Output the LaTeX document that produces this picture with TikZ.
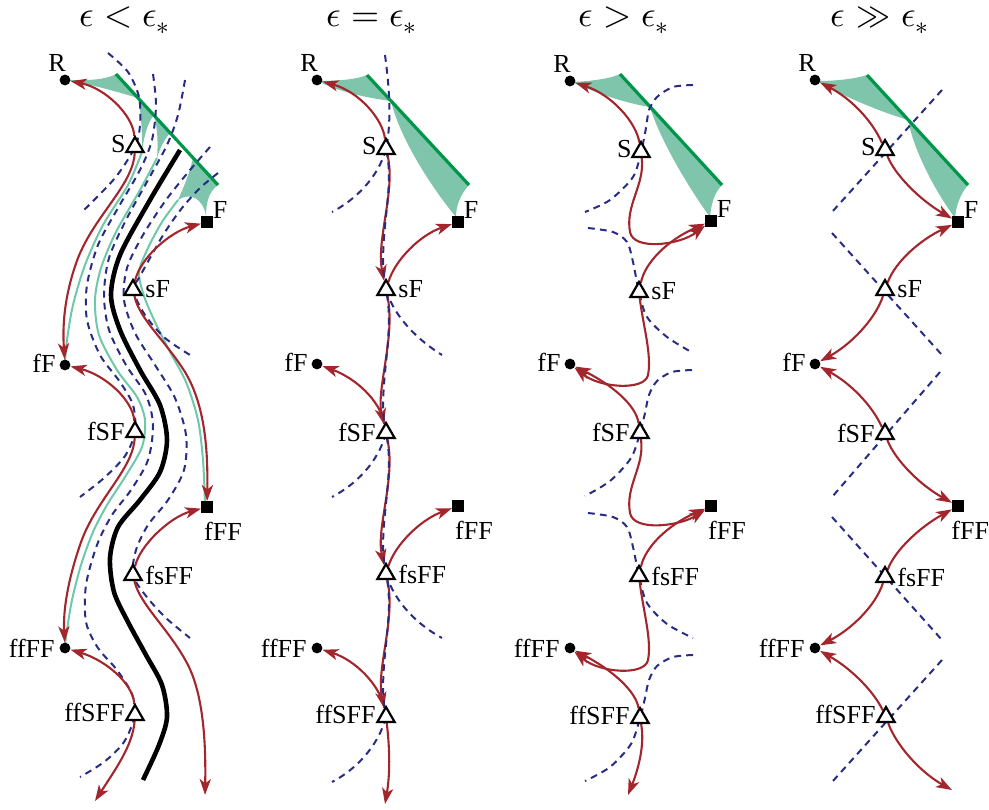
\documentclass[tikz,border=0pt]{standalone}
\usepackage{fontspec}
\usepackage{unicode-math}
\setmainfont{Liberation Serif}
\setmathfont{Latin Modern Math}
\usetikzlibrary{arrows.meta,shapes.geometric,calc}
\definecolor{myred}{RGB}{163,38,45}
\definecolor{myblue}{RGB}{40,44,130}
\definecolor{mygreen}{RGB}{0,150,72}
\definecolor{myfill}{RGB}{126,197,172}
\definecolor{mymint}{RGB}{110,200,170}
\pgfdeclarelayer{bg}
\pgfsetlayers{bg,main}
\tikzset{
  redarr/.style={draw=myred, line width=1.05pt, -{Stealth[length=8pt,width=5.6pt,inset=2.2pt]}},
  dsh/.style={draw=myblue, line width=1pt, dash pattern=on 3.4pt off 2.6pt},
  mintln/.style={draw=mymint, line width=1pt},
  sepline/.style={draw=black, line width=2.3pt},
  gline/.style={draw=mygreen, line width=1.6pt},
  gfill/.style={fill=myfill, draw=none},
  dotnode/.style={circle, fill=black, inner sep=0pt, minimum size=5.4pt},
  sqnode/.style={rectangle, fill=black, inner sep=0pt, minimum size=5.6pt},
  trinode/.style={regular polygon, regular polygon sides=3, draw=black, fill=white, line width=1.1pt, inner sep=0pt, minimum size=10pt},
  lab/.style={font=\fontsize{13}{15}\selectfont, inner sep=0pt},
  ttl/.style={font=\fontsize{18}{20}\selectfont, inner sep=0pt, anchor=base},
}
\begin{document}
\begin{tikzpicture}[x=0.5pt,y=-0.5pt]
\useasboundingbox (0,0) rectangle (989,809);

% titles
\node[ttl] (T1) at (125,26) {$\epsilon < \epsilon_*$};
\node[ttl] (T2) at (372,26) {$\epsilon = \epsilon_*$};
\node[ttl] (T3) at (624,26) {$\epsilon > \epsilon_*$};
\node[ttl] (T4) at (880,26) {$\epsilon \gg \epsilon_*$};

% ---------- panel 1 nodes ----------
\node[dotnode] (R1) at (65,80) {};
\node[trinode] (S1) at (135,147) {};
\node[sqnode] (F1) at (207,222) {};
\node[trinode] (sF1) at (133,290) {};
\node[dotnode] (fF1) at (65,365) {};
\node[trinode] (fSF1) at (135,432) {};
\node[sqnode] (fFF1) at (207,507) {};
\node[trinode] (fsFF1) at (133,575) {};
\node[dotnode] (ffFF1) at (65,648) {};
\node[trinode] (ffSFF1) at (135,715) {};
\coordinate (e1a) at (205,795);
\coordinate (e1b) at (95,801);

% ---------- panel 2 nodes ----------
\node[dotnode] (R2) at (317,80) {};
\node[trinode] (S2) at (386,149) {};
\node[sqnode] (F2) at (458,222) {};
\node[trinode] (sF2) at (386,290) {};
\node[dotnode] (fF2) at (317,364) {};
\node[trinode] (fSF2) at (386,433) {};
\node[sqnode] (fFF2) at (458,506) {};
\node[trinode] (fsFF2) at (386,574) {};
\node[dotnode] (ffFF2) at (317,648) {};
\node[trinode] (ffSFF2) at (386,717) {};
\coordinate (e2) at (385,804);

% ---------- panel 3 nodes ----------
\node[dotnode] (R3) at (570,81) {};
\node[trinode] (S3) at (641,152) {};
\node[sqnode] (F3) at (711,221) {};
\node[trinode] (sF3) at (639,292) {};
\node[dotnode] (fF3) at (570,364) {};
\node[trinode] (fSF3) at (640,433) {};
\node[sqnode] (fFF3) at (711,506) {};
\node[trinode] (fsFF3) at (639,576) {};
\node[dotnode] (ffFF3) at (570,648) {};
\node[trinode] (ffSFF3) at (640,718) {};
\coordinate (e3) at (628,795);

% ---------- panel 4 nodes ----------
\node[dotnode] (R4) at (815,80) {};
\node[trinode] (S4) at (885,150) {};
\node[sqnode] (F4) at (958,222) {};
\node[trinode] (sF4) at (885,290) {};
\node[dotnode] (fF4) at (815,364) {};
\node[trinode] (fSF4) at (885,434) {};
\node[sqnode] (fFF4) at (958,506) {};
\node[trinode] (fsFF4) at (885,577) {};
\node[dotnode] (ffFF4) at (815,648) {};
\node[trinode] (ffSFF4) at (886,717) {};
\coordinate (e4) at (952,790);

% ---------- labels ----------
\foreach \p in {1,2,3,4}{
  \node[lab] (lR\p) at ($(R\p)+(-8,-17)$) {R};
  \node[lab, anchor=east] (lS\p) at ($(S\p)+(-9,-3)$) {S};
  \node[lab] (lF\p) at ($(F\p)+(13,-12)$) {F};
  \node[lab, anchor=west] (lsF\p) at ($(sF\p)+(12,-1)$) {sF};
  \node[lab, anchor=east] (lfF\p) at ($(fF\p)+(-9,-2)$) {fF};
  \node[lab, anchor=east] (lfSF\p) at ($(fSF\p)+(-10,-1)$) {fSF};
  \node[lab, anchor=west] (lfsFF\p) at ($(fsFF\p)+(12,0)$) {fsFF};
  \node[lab, anchor=east] (lffFF\p) at ($(ffFF\p)+(-10,0)$) {ffFF};
  \node[lab, anchor=east] (lffSFF\p) at ($(ffSFF\p)+(-10,-3)$) {ffSFF};
}
\node[lab] (lfFF1) at ($(fFF1)+(16,24)$) {fFF};
\node[lab] (lfFF2) at ($(fFF2)+(16,24)$) {fFF};
\node[lab] (lfFF3) at ($(fFF3)+(16,24)$) {fFF};
\node[lab, anchor=west] (lfFF4) at ($(fFF4)+(-7,24)$) {fFF};

\begin{pgfonlayer}{bg}
% ================= panel 1 =================
\fill[gfill] (66,80) .. controls (90,81) and (108,79) .. (116,74) -- (138,98) .. controls (118,92) and (90,84) .. (66,80) -- cycle;
\fill[gfill] (138,98) .. controls (142,118) and (142,135) .. (142,152) .. controls (144,135) and (148,122) .. (154,115) -- cycle;
\fill[gfill] (154,115) .. controls (158,130) and (158,145) .. (157,158) .. controls (160,148) and (164,140) .. (170,133) -- cycle;
\fill[gfill] (193,158) .. controls (189,175) and (183,189) .. (178,200) .. controls (190,192) and (203,198) .. (206,216) .. controls (206,200) and (210,191) .. (218,185) -- cycle;
\draw[gline] (116,74) -- (218,185);

\draw[mintln] plot[smooth] coordinates {(142,152) (128,185) (103,225) (85,265) (73,305) (67,340) (65,362)};
\draw[mintln] plot[smooth] coordinates {(157,158) (140,190) (116,232) (101,268) (95,300) (99,335) (117,370) (137,397) (145,420) (142,447) (125,477) (107,505) (93,532) (81,565) (72,600) (67,630) (65,645)};
\draw[mintln] plot[smooth] coordinates {(178,200) (162,222) (148,248) (139,272) (144,296) (155,322) (169,350) (186,382) (198,420) (203,460) (205,503)};

\draw[dsh] plot[smooth] coordinates {(108,53) (128,72) (139,97) (140,125) (135,147) (115,178) (82,212)};
\draw[dsh] plot[smooth] coordinates {(153,74) (156,105) (152,140) (140,170) (118,208) (98,245) (87,285) (87,320) (100,355) (120,382) (133,405) (135,432) (125,456) (104,478) (80,497)};
\draw[dsh] plot[smooth] coordinates {(185,80) (178,115) (167,145) (148,180) (126,220) (109,258) (104,295) (109,330) (126,365) (146,395) (153,425) (148,460) (131,490) (112,515) (97,545) (86,585) (86,622) (98,648) (117,670) (132,694) (135,715) (124,742) (104,762) (80,777)};
\draw[dsh] plot[smooth] coordinates {(210,147) (190,170) (166,200) (143,235) (127,268) (124,300) (135,333) (155,365) (175,398) (186,435) (184,470) (168,500) (148,525) (136,550) (133,575) (146,596) (166,618) (190,638)};
\draw[dsh] plot[smooth] coordinates {(218,173) (200,188) (182,208) (165,232) (150,258) (139,278) (133,290) (145,315) (165,338) (190,355)};

\draw[sepline] plot[smooth] coordinates {(180,150) (150,200) (120,255) (111,295) (120,330) (140,370) (160,405) (167,440) (160,472) (140,500) (118,527) (110,558) (114,592) (128,622) (146,655) (162,685) (167,717) (159,745) (143,780)};

\draw[redarr] (S1) .. controls (133,115) and (105,88) .. (R1);
\draw[redarr] (S1) .. controls (133,185) and (95,215) .. (78,258) .. controls (66,290) and (62,320) .. (fF1);
\draw[redarr] (sF1) .. controls (140,258) and (170,232) .. (F1);
\draw[redarr] (sF1) .. controls (140,320) and (165,340) .. (185,372) .. controls (205,405) and (208,450) .. (fFF1);
\draw[redarr] (fSF1) .. controls (133,400) and (105,375) .. (fF1);
\draw[redarr] (fSF1) .. controls (133,470) and (95,500) .. (80,545) .. controls (68,580) and (63,610) .. (ffFF1);
\draw[redarr] (fsFF1) .. controls (140,545) and (170,517) .. (fFF1);
\draw[redarr] (fsFF1) .. controls (140,605) and (170,630) .. (188,665) .. controls (203,695) and (206,740) .. (e1a);
\draw[redarr] (ffSFF1) .. controls (133,683) and (105,660) .. (ffFF1);
\draw[redarr] (ffSFF1) .. controls (133,745) and (115,770) .. (e1b);

% ================= panel 2 =================
\fill[gfill] (318,81) .. controls (340,81) and (358,79) .. (367,75) -- (391,101) .. controls (375,99) and (340,93) .. (318,81) -- cycle;
\fill[gfill] (391,101) -- (469,185) .. controls (460,195) and (456,206) .. (456,217) .. controls (435,192) and (400,140) .. (391,101) -- cycle;
\draw[gline] (367,75) -- (469,185);

\draw[redarr] (S2) .. controls (383,120) and (360,92) .. (R2);
\draw[redarr] (S2) .. controls (396,190) and (376,240) .. (sF2);
\draw[redarr] (sF2) .. controls (395,260) and (420,235) .. (F2);
\draw[redarr] (sF2) .. controls (396,335) and (376,390) .. (fSF2);
\draw[redarr] (fSF2) .. controls (380,400) and (355,378) .. (fF2);
\draw[redarr] (fSF2) .. controls (396,478) and (376,528) .. (fsFF2);
\draw[redarr] (fsFF2) .. controls (395,545) and (420,520) .. (fFF2);
\draw[redarr] (fsFF2) .. controls (396,619) and (376,669) .. (ffSFF2);
\draw[redarr] (ffSFF2) .. controls (380,685) and (355,660) .. (ffFF2);
\draw[redarr] (ffSFF2) .. controls (390,750) and (390,775) .. (e2);

\draw[dsh] (385,55) .. controls (389,85) and (392,120) .. (S2.center) .. controls (396,190) and (376,240) .. (sF2.center) .. controls (396,335) and (376,390) .. (fSF2.center) .. controls (396,478) and (376,528) .. (fsFF2.center) .. controls (396,619) and (376,669) .. (ffSFF2.center);
\draw[dsh] (S2.center) .. controls (378,178) and (355,200) .. (332,212);
\draw[dsh] (sF2.center) .. controls (395,318) and (418,340) .. (442,355);
\draw[dsh] (fSF2.center) .. controls (378,463) and (355,485) .. (332,497);
\draw[dsh] (fsFF2.center) .. controls (395,603) and (418,625) .. (442,638);
\draw[dsh] (ffSFF2.center) .. controls (378,747) and (355,770) .. (332,782);

% ================= panel 3 =================
\fill[gfill] (572,82) .. controls (595,81) and (612,78) .. (620,74) -- (650,107) .. controls (630,104) and (600,95) .. (572,82) -- cycle;
\fill[gfill] (650,107) -- (722,185) .. controls (714,193) and (711,205) .. (710,217) .. controls (690,190) and (660,140) .. (650,107) -- cycle;
\draw[gline] (620,74) -- (722,185);

\draw[dsh] plot[smooth] coordinates {(693,85) (673,87) (657,97) (649,110) (646,128) (641,152) (633,177) (610,200) (585,212)};
\draw[dsh] plot[smooth] coordinates {(588,228) (613,232) (627,242) (633,262) (639,292) (647,317) (667,337) (693,353)};
\draw[dsh] plot[smooth] coordinates {(692,370) (672,372) (657,381) (649,395) (645,413) (640,433) (631,458) (610,481) (585,496)};
\draw[dsh] plot[smooth] coordinates {(588,513) (613,517) (627,527) (633,547) (639,576) (647,603) (667,624) (693,638)};
\draw[dsh] plot[smooth] coordinates {(693,655) (673,657) (657,666) (649,680) (645,698) (640,718) (631,744) (610,767) (585,781)};

\draw[redarr] (S3) .. controls (636,122) and (612,95) .. (R3);
\draw[redarr] (S3) .. controls (645,185) and (625,205) .. (630,232) .. controls (633.5,251) and (680,245) .. (F3);
\draw[redarr] (sF3) .. controls (645,262) and (668,240) .. (F3);
\draw[redarr] (sF3) .. controls (643,325) and (652,355) .. (648,375) .. controls (644.8,391) and (600,388) .. (fF3);
\draw[redarr] (fSF3) .. controls (636,405) and (612,385) .. (fF3);
\draw[redarr] (fSF3) .. controls (645,466) and (625,486) .. (630,513) .. controls (633.5,532) and (680,526) .. (fFF3);
\draw[redarr] (fsFF3) .. controls (645,547) and (668,525) .. (fFF3);
\draw[redarr] (fsFF3) .. controls (643,610) and (652,640) .. (648,660) .. controls (644.8,676) and (600,673) .. (ffFF3);
\draw[redarr] (ffSFF3) .. controls (636,691) and (612,670) .. (ffFF3);
\draw[redarr] (ffSFF3) .. controls (645,745) and (638,770) .. (e3);

% ================= panel 4 =================
\fill[gfill] (817,81) .. controls (840,81) and (858,78) .. (867,75) -- (908,120) .. controls (885,113) and (850,100) .. (817,81) -- cycle;
\fill[gfill] (908,120) -- (968,185) .. controls (961,193) and (956,205) .. (955,218) .. controls (938,195) and (915,155) .. (908,120) -- cycle;
\draw[gline] (867,75) -- (968,185);

\draw[dsh] (942,90) -- (832,212);
\draw[dsh] (832,233) -- (942,355);
\draw[dsh] (940,372) -- (832,497);
\draw[dsh] (832,517) -- (942,640);
\draw[dsh] (942,660) -- (832,782);

\draw[redarr] (S4) .. controls (872,120) and (850,98) .. (R4);
\draw[redarr] (S4) .. controls (895,175) and (920,200) .. (F4);
\draw[redarr] (sF4) .. controls (895,262) and (920,240) .. (F4);
\draw[redarr] (sF4) .. controls (875,320) and (850,345) .. (fF4);
\draw[redarr] (fSF4) .. controls (872,405) and (850,383) .. (fF4);
\draw[redarr] (fSF4) .. controls (895,460) and (920,485) .. (fFF4);
\draw[redarr] (fsFF4) .. controls (895,550) and (920,527) .. (fFF4);
\draw[redarr] (fsFF4) .. controls (875,607) and (850,630) .. (ffFF4);
\draw[redarr] (ffSFF4) .. controls (873,690) and (850,668) .. (ffFF4);
\draw[redarr] (ffSFF4) .. controls (896,745) and (920,772) .. (e4);
\end{pgfonlayer}
\end{tikzpicture}
\end{document}
